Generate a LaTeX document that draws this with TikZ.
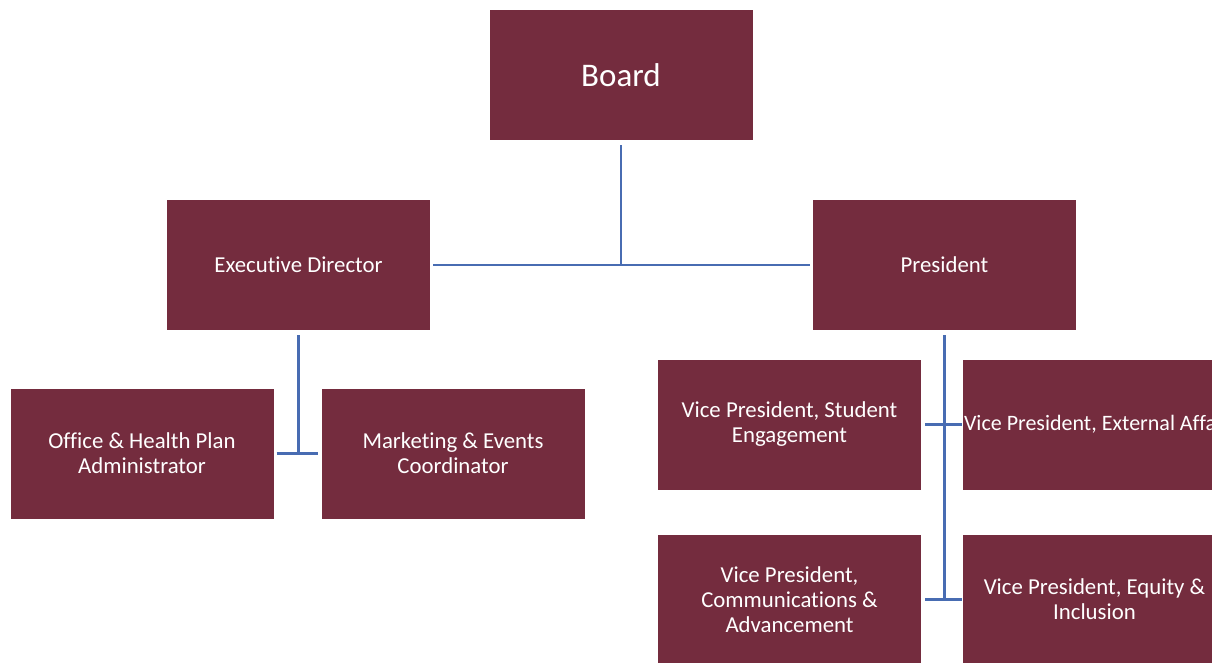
\documentclass[tikz,border=0pt]{standalone}
\usepackage{fontspec}
\setmainfont[Ligatures=NoCommon]{Carlito}
\usetikzlibrary{shapes.geometric, arrows}
\usetikzlibrary{calc}
\definecolor{maroon}{RGB}{116,44,62}
\definecolor{linkblue}{RGB}{72,108,178}
\tikzstyle{post} = [rectangle, minimum width = 263pt, minimum height=130pt, inner sep=0pt, text centered, align=center, fill = maroon, text = white, font=\fontsize{22.8}{25}\selectfont]
\tikzstyle{top} = [post, font=\fontsize{33}{36}\selectfont]
\tikzstyle{link} = [draw = linkblue, line width=2.6pt]

\begin{document}
\begin{tikzpicture}[node distance=190pt]
	\useasboundingbox (0,0) rectangle (1212pt,-662pt);
	\fill[white] (0,0) rectangle (1212pt,-662pt);
	\clip (0,0) rectangle (1212pt,-662pt);
	% boxes
	\node (BOARD) [top] at (621pt,-75pt) {Board};
	\node (ED) [post, below of=BOARD, xshift=-322.5pt] {Executive Director};
	\node (PRES) [post, right of=ED, xshift=456pt] {President};
	\node (OHP) [post, below of=ED, xshift=-156.5pt, yshift=1.5pt] {Office \& Health Plan\\Administrator};
	\node (MEC) [post, right of=OHP, xshift=121pt] {Marketing \& Events\\Coordinator};
	\node (VPSE) [post, below of=PRES, xshift=-155pt, yshift=30.5pt] {Vice President, Student\\Engagement};
	\node (VPEA) [post, right of=VPSE, xshift=115pt, font=\fontsize{22}{25}\selectfont] {\makebox[263pt][l]{\hspace{1pt}Vice President, External Affairs}};
	\node (VPCA) [post, below of=VPSE, yshift=15pt] {Vice President,\\Communications \&\\Advancement};
	\node (VPEI) [post, right of=VPCA, xshift=115pt] {Vice President, Equity \&\\Inclusion};
	% lines
	\draw [link] ([yshift=-5pt]BOARD.south) -- (BOARD.south |- ED.east);
	\draw [link] ([xshift=3pt]ED.east) -- ([xshift=-3pt]PRES.west);
	\draw [link] ([yshift=-5pt]ED.south) -- (ED.south |- OHP.east);
	\draw [link] ([xshift=3pt]OHP.east) -- ([xshift=-3pt]MEC.west);
	\draw [link] ([yshift=-5pt]PRES.south) -- (PRES.south |- VPCA.east);
	\draw [link] ([xshift=4pt]VPSE.east) -- ([xshift=-1pt]VPEA.west);
	\draw [link] ([xshift=4pt]VPCA.east) -- ([xshift=-1pt]VPEI.west);
\end{tikzpicture}
\end{document}
